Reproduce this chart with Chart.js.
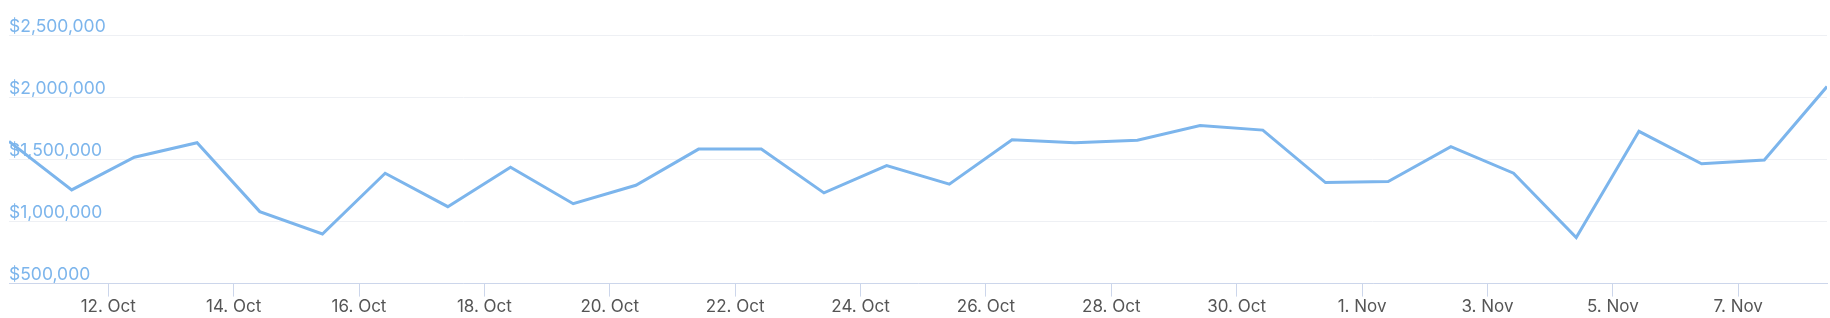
<!DOCTYPE html>
<html>
<head>
<meta charset="utf-8">
<script src="https://cdn.jsdelivr.net/npm/chart.js@4.4.0/dist/chart.umd.min.js"></script>
<style>
    html, body { margin: 0; padding: 0; background: #fff; }
    #wrap { width: 1830px; height: 318px; }
</style>
</head>
<body>
<div id="wrap"><canvas id="revenueChart"></canvas></div>
<script>
// daily revenue, 10 Oct – 8 Nov
const dates = [
    "2023-10-10", "2023-10-11", "2023-10-12", "2023-10-13", "2023-10-14",
    "2023-10-15", "2023-10-16", "2023-10-17", "2023-10-18", "2023-10-19",
    "2023-10-20", "2023-10-21", "2023-10-22", "2023-10-23", "2023-10-24",
    "2023-10-25", "2023-10-26", "2023-10-27", "2023-10-28", "2023-10-29",
    "2023-10-30", "2023-10-31", "2023-11-01", "2023-11-02", "2023-11-03",
    "2023-11-04", "2023-11-05", "2023-11-06", "2023-11-07", "2023-11-08"
];
const revenue = [
    1644000, 1254000, 1517000, 1633000, 1079000,
    899000,  1388000, 1119000, 1437000, 1143000,
    1291000, 1582000, 1582000, 1230000, 1450000,
    1300000, 1658000, 1633000, 1654000, 1771000,
    1735000, 1313000, 1321000, 1602000, 1388000,
    871000,  1725000, 1464000, 1494000, 2085000
];

// axis ticks
const xTickDates = [
    "2023-10-12", "2023-10-14", "2023-10-16", "2023-10-18", "2023-10-20",
    "2023-10-22", "2023-10-24", "2023-10-26", "2023-10-28", "2023-10-30",
    "2023-11-01", "2023-11-03", "2023-11-05", "2023-11-07"
];
const yTicks = [500000, 1000000, 1500000, 2000000, 2500000];

const MONTHS = ["Jan", "Feb", "Mar", "Apr", "May", "Jun", "Jul", "Aug", "Sep", "Oct", "Nov", "Dec"];
const BASE = Date.parse("2023-10-01");
const DAY_MS = 86400000;
const POINT_HOUR = 10;   // readings are stamped mid-morning

// days since BASE (UTC)
function dayOf(d) {
    return (Date.parse(d) - BASE) / DAY_MS;
}

function fmtDate(v) {
    const d = new Date(BASE + Math.round(v) * DAY_MS);
    return d.getUTCDate() + ". " + MONTHS[d.getUTCMonth()];
}

const points = dates.map((d, i) => ({ x: dayOf(d) + POINT_HOUR / 24, y: revenue[i] }));

new Chart(document.getElementById("revenueChart"), {
    type: "line",
    data: {
        datasets: [{
            label: "Revenue",
            data: points,
            borderColor: "#7cb5ec",
            borderWidth: 3,
            pointRadius: 0,
            tension: 0,
            fill: false,
        }],
    },
    options: {
        responsive: true,
        maintainAspectRatio: false,
        animation: false,
        layout: { padding: { left: 9, right: 3, top: 35, bottom: 1 } },
        plugins: { legend: { display: false }, tooltip: { enabled: false } },
        scales: {
            x: {
                type: "linear",
                min: points[0].x,
                max: points[points.length - 1].x,
                afterBuildTicks: s => { s.ticks = xTickDates.map(d => ({ value: dayOf(d) })); },
                grid: { drawOnChartArea: false, drawTicks: true, tickLength: 13, tickColor: "#ccd6eb" },
                border: { color: "#ccd6eb", width: 1 },
                ticks: {
                    padding: 0,
                    color: "#555555",
                    font: { family: "Inter", size: 17 },
                    maxRotation: 0,
                    autoSkip: false,
                    callback: v => fmtDate(v),
                },
            },
            y: {
                min: 500000,
                max: 2500000,
                afterBuildTicks: s => { s.ticks = yTicks.map(v => ({ value: v })); },
                afterFit: s => { s.width = 0; },
                grid: { color: "#eef0f4", drawTicks: false },
                border: { display: false },
                ticks: {
                    mirror: true,
                    padding: 0,
                    color: "#7cb5ec",
                    font: { family: "Inter", size: 17.5, lineHeight: 1.0 },
                    // second empty line lifts the label above its grid line
                    callback: v => ["$" + v.toLocaleString("en-US"), ""],
                },
            },
        },
    },
});
</script>
</body>
</html>
